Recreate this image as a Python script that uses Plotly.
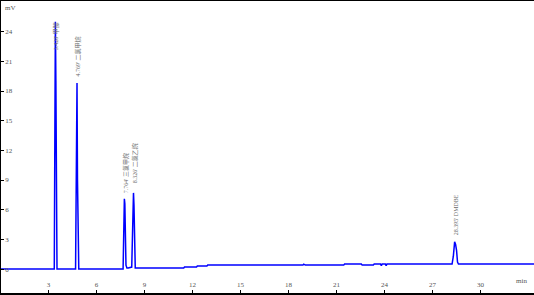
import plotly.graph_objects as go

# Chromatogram trace (min, mV)
time_min = [0.0, 3.36, 3.40, 3.43, 3.46, 3.50, 3.53,
            4.69, 4.72, 4.75, 4.78, 4.81, 4.85, 4.89,
            7.66, 7.70, 7.74, 7.77, 7.80, 7.84, 7.90, 7.98,
            8.20, 8.26, 8.31, 8.34, 8.37, 8.42, 8.48,
            11.45, 11.5, 12.25, 12.3, 12.9, 12.95,
            18.9, 18.95, 19.0, 19.05,
            21.45, 21.5, 22.55, 22.6, 23.3, 23.35, 23.75, 23.8, 23.85, 24.05, 24.1, 24.15,
            28.22, 28.30, 28.38, 28.44, 28.50, 28.56, 28.62, 33.4]
signal_mv = [0, 0, 15, 25, 19, 0.3, 0,
             0, 4.7, 14, 18.8, 9, 0.8, 0,
             0, 4.7, 7.1, 6.6, 1.0, 0.4, 0.1, 0.1,
             0.2, 3.8, 7.7, 6.5, 0.9, 0.1, 0.1,
             0.1, 0.2, 0.2, 0.3, 0.3, 0.4,
             0.4, 0.5, 0.4, 0.4,
             0.4, 0.5, 0.5, 0.4, 0.4, 0.5, 0.5, 0.35, 0.5, 0.5, 0.35, 0.5,
             0.5, 1.3, 2.75, 2.5, 1.9, 0.7, 0.5, 0.5]

# Peak annotations
peak_times = [3.428, 4.769, 7.764, 8.326, 28.395]
peak_heights = [25, 18.8, 7.1, 7.7, 2.75]
peak_names = ["甲醇", "二氯甲烷", "三氯甲烷", "二氯乙烷", "DMDBE"]

x_ticks = [3, 6, 9, 12, 15, 18, 21, 24, 27, 30]
y_ticks = [0, 3, 6, 9, 12, 15, 18, 21, 24]

label_offsets = [-3.1, 0.5, 0.4, 0.8, 0.45]  # label base relative to apex (mV)

fig = go.Figure()
fig.add_trace(go.Scatter(x=time_min, y=signal_mv, mode="lines",
                         line=dict(color="#0000ff", width=1.5), hoverinfo="skip"))

lab_font = dict(family="Liberation Serif, Noto Sans CJK SC", size=6, color="#6a6a6a")
for t, h, n, off in zip(peak_times, peak_heights, peak_names, label_offsets):
    fig.add_annotation(x=t, y=h + off, text=f"{t:.3f}' {n}", textangle=-90,
                       showarrow=False, xanchor="center", yanchor="bottom",
                       font=lab_font, xshift=1.5)

fig.add_annotation(xref="paper", yref="paper", x=0.004, y=0.995, text="mV",
                   showarrow=False, xanchor="left", yanchor="top",
                   font=dict(family="Liberation Serif", size=7, color="#555"))
fig.add_annotation(xref="paper", yref="y", x=0.99, y=-1.2, text="min",
                   showarrow=False, xanchor="right", yanchor="middle",
                   font=dict(family="Liberation Serif", size=7, color="#555"))

fig.update_layout(
    width=534, height=295,
    margin=dict(l=1, r=0, t=1, b=2),
    paper_bgcolor="white", plot_bgcolor="white",
    showlegend=False,
    font=dict(family="Liberation Serif", size=7, color="#555"),
)
fig.update_xaxes(range=[0.03, 33.34], tickvals=x_ticks, ticks="inside", ticklen=3,
                 tickcolor="black", ticklabelposition="inside", showgrid=False,
                 zeroline=False, showline=True, linecolor="black", linewidth=1.5,
                 mirror=True, tickfont=dict(size=7, color="#555"))
fig.update_yaxes(range=[-2.42, 27.1], tickvals=y_ticks, ticks="inside", ticklen=3,
                 tickcolor="black", ticklabelposition="inside", showgrid=False,
                 zeroline=False, showline=True, linecolor="black", linewidth=1.5,
                 tickfont=dict(size=7, color="#555"))

fig.write_html("out.html")
